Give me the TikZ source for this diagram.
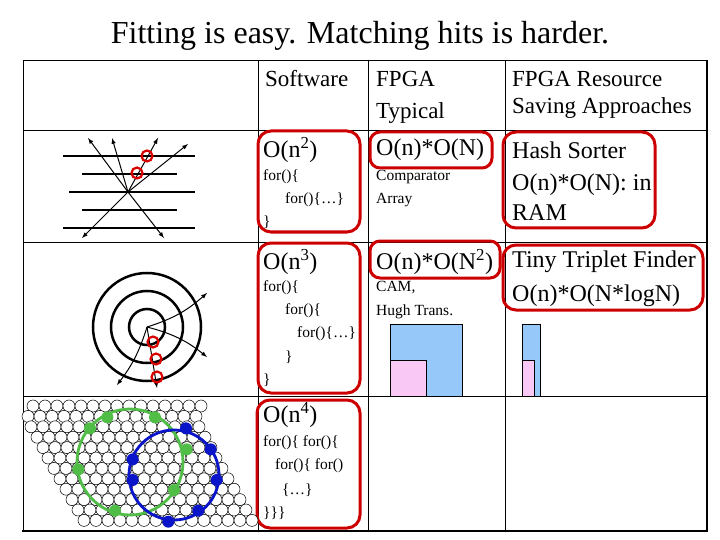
\documentclass[tikz,border=0pt]{standalone}
\usepackage{fontspec}
\setmainfont{Liberation Serif}
\definecolor{lblue}{RGB}{150,200,250}
\definecolor{lpink}{RGB}{250,200,245}
\definecolor{hgreen}{RGB}{80,190,70}
\definecolor{hblue}{RGB}{10,20,200}
\begin{document}
\begin{tikzpicture}[x=1pt,y=-1pt,
  big/.style={anchor=west,inner sep=0pt,font=\fontsize{24}{24}\selectfont},
  hdr/.style={anchor=west,inner sep=0pt,font=\fontsize{23}{23}\selectfont},
  code/.style={anchor=west,inner sep=0pt,font=\fontsize{15.5}{15.5}\selectfont},
  redbox/.style={draw=red!80!black,line width=3pt,rounded corners=13pt},
  hexc/.style={draw=black,line width=0.5pt,fill=white},
  arr/.style={-latex,line width=1pt},
  hit/.style={draw=red!85!black,line width=2.2pt}]
\useasboundingbox (0,0) rectangle (720,540);
\node[anchor=center,inner sep=0pt,font=\fontsize{32}{32}\selectfont] (title) at (360,36) {Fitting is easy. Matching hits is harder.};
% table
\draw[line width=0.8pt] (23,60) rectangle (707,530);
\draw[line width=2pt] (707,60) -- (707,531) -- (22,531);
\foreach \x in {258,368,505} \draw[line width=0.8pt] (\x,60) -- (\x,530);
\foreach \y in {130,242,396} \draw[line width=0.8pt] (23,\y) -- (707,\y);
% headers
\node[hdr] (h1) at (265,79) {Software};
\node[hdr] (h2) at (376,79) {FPGA};
\node[hdr] (h2b) at (376,113) {Typical};
\node[hdr] (h3) at (512,79) {FPGA Resource};
\node[hdr] (h3b) at (512,108) {Saving Approaches};
% row 1
\node[big] (a1) at (263,150) {O(n\textsuperscript{2})};
\node[code] (a2) at (263,177) {for()\{};
\node[code] (a3) at (285,200) {for()\{…\}};
\node[code] (a4) at (263,222) {\}};
\node[big] (b1) at (376,150) {O(n)*O(N)};
\node[code] (b2) at (376,177) {Comparator};
\node[code] (b3) at (376,200) {Array};
\node[big] (c1) at (512,150) {Hash Sorter};
\node[big] (c2) at (512,185) {O(n)*O(N): in};
\node[big] (c3) at (512,213) {RAM};
% row 2
\node[big] (d1) at (263,262) {O(n\textsuperscript{3})};
\node[code] (d2) at (263,288) {for()\{};
\node[code] (d3) at (285,311) {for()\{};
\node[code] (d4) at (297,334) {for()\{…\}};
\node[code] (d5) at (285,357) {\}};
\node[code] (d6) at (263,380) {\}};
\node[big] (e1) at (376,262) {O(n)*O(N\textsuperscript{2})};
\node[code] (e2) at (376,288) {CAM,};
\node[code] (e3) at (376,312) {Hugh Trans.};
\node[big] (f1) at (512,262) {Tiny Triplet Finder};
\node[big] (f2) at (512,296) {O(n)*O(N*logN)};
% row 3
\node[big] (g1) at (263,415) {O(n\textsuperscript{4})};
\node[code] (g2) at (263,443) {for()\{ for()\{};
\node[code] (g3) at (275,466) {for()\{ for()};
\node[code] (g4) at (282,490) {\{…\}};
\node[code] (g5) at (263,513) {\}\}\}};
% red boxes
\draw[redbox] (258,131) rectangle (360,232);
\draw[redbox,rounded corners=10pt] (370,132) rectangle (492,168);
\draw[redbox] (503,132) rectangle (655,228);
\draw[redbox] (258,243) rectangle (360,393);
\draw[redbox,rounded corners=10pt] (370,241) rectangle (500,278);
\draw[redbox] (503,245) rectangle (703,310);
\draw[redbox] (257,400) rectangle (360,528);
% bars
\draw[fill=lblue,draw=black,line width=0.6pt] (390,324) rectangle (462,396);
\draw[fill=lpink,draw=black,line width=0.6pt] (390,360) rectangle (426,396);
\draw[fill=lblue,draw=black,line width=0.6pt] (522,324) rectangle (540,396);
\draw[fill=lpink,draw=black,line width=0.6pt] (522,360) rectangle (534,396);
% picture 1
\foreach \y/\a/\b in {156/63/195,174/82/177,192/69/195,210/82/177,228/63/195}
  \draw[line width=2.5pt] (\a,\y) -- (\b,\y);
\coordinate (o1) at (128,192);
\foreach \p in {(88,138),(112,138),(158,138),(188,144),(82,238),(164,238)}
  \draw[arr] (o1) -- \p;
\draw[hit] (147,156) circle (5.5);
\draw[hit] (137,173) circle (5.5);
% picture 2
\coordinate (o2) at (147,327);
\foreach \r in {18,36,54} \draw[line width=2.5pt] (o2) circle (\r);
\draw[arr] (o2) to[bend right=12] (207,293);
\draw[arr] (o2) to[bend left=12] (207,357);
\draw[arr] (o2) to[bend left=10] (117,385);
\draw[arr] (o2) -- (157,388);
\draw[hit] (153,342) circle (5.5);
\draw[hit] (156,359) circle (5.5);
\draw[hit] (157,377) circle (5.5);
% picture 3 hex grid
\foreach \i/\xs in {0/33,1/28,2/31,3/37,4/43,5/48,6/54,7/60,8/66,9/72,10/78,11/84}
  \foreach \j in {0,...,14}
    \draw[hexc] ({\xs+12*\j},{406+10.4*\i}) circle (6);
\draw[draw=hgreen,line width=2.8pt] (130,462) circle (53);
\draw[draw=hblue,line width=2.8pt] (174,475) circle (45);
\foreach \zx/\zy in {262/82,405/82,210/115,500/178,175/238,462/300,285/362}
  \fill[hgreen] ({20+\zx/3},{390+\zy/3}) circle (6);
\foreach \zx/\zy in {498/115,572/178,338/208,338/270,590/270,535/362,445/395}
  \fill[hblue] ({20+\zx/3},{390+\zy/3}) circle (6);
\end{tikzpicture}
\end{document}
